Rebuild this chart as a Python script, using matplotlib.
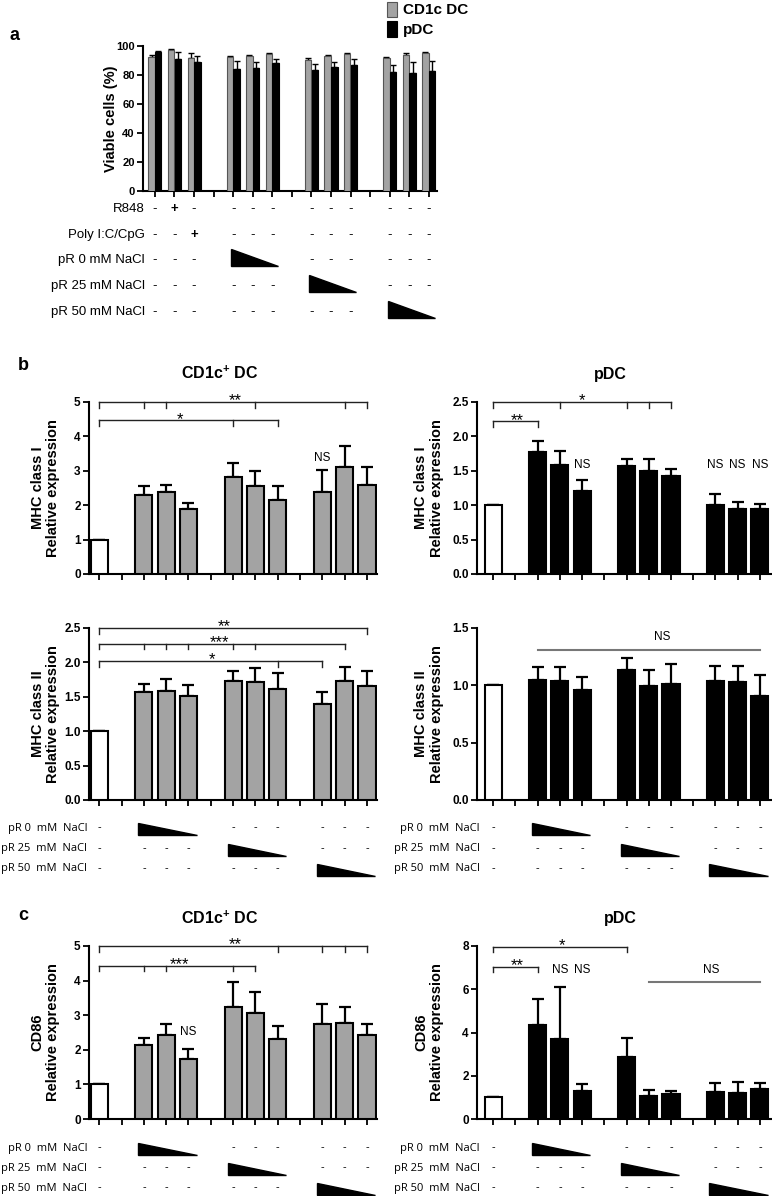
import matplotlib
matplotlib.use('Agg')
import matplotlib.pyplot as plt
from matplotlib import transforms
from matplotlib.patches import Polygon, Rectangle
import numpy as np

plt.rcParams['font.family'] = ['Liberation Sans', 'DejaVu Sans']
plt.rcParams['mathtext.fontset'] = 'custom'
plt.rcParams['mathtext.rm'] = 'Liberation Sans'
plt.rcParams['mathtext.bf'] = 'Liberation Sans:bold'

# ---------------- data ----------------
# panel a: viable cells (%)
a_pos = [0, 1, 2, 4, 5, 6, 8, 9, 10, 12, 13, 14]
a_cd1c = [92.6, 97.5, 92.0, 92.2, 92.9, 94.3, 90.1, 93.1, 94.5, 92.0, 94.0, 95.4]
a_cd1c_err = [1.4, 0.3, 3.2, 0.9, 0.9, 0.9, 1.6, 0.7, 0.9, 0.6, 1.0, 0.6]
a_pdc = [95.9, 91.3, 89.0, 83.9, 84.8, 88.0, 83.2, 85.7, 87.1, 81.8, 81.6, 82.5]
a_pdc_err = [0.7, 4.3, 4.3, 5.5, 4.4, 3.3, 4.6, 3.3, 3.7, 5.1, 7.4, 7.2]
a_row_labels = ['R848', 'Poly I:C/CpG', 'pR 0 mM NaCl', 'pR 25 mM NaCl', 'pR 50 mM NaCl']
# one entry per a_pos; 'T' = start of a decreasing triangle
a_row_signs = [
    ['-', '+', '-', '-', '-', '-', '-', '-', '-', '-', '-', '-'],
    ['-', '-', '+', '-', '-', '-', '-', '-', '-', '-', '-', '-'],
    ['-', '-', '-', 'T', '', '', '-', '-', '-', '-', '-', '-'],
    ['-', '-', '-', '-', '-', '-', 'T', '', '', '-', '-', '-'],
    ['-', '-', '-', '-', '-', '-', '-', '-', '-', 'T', '', ''],
]

# panels b, c: relative expression (control + 3 groups of 3)
bc_pos = [0, 2, 3, 4, 6, 7, 8, 10, 11, 12]
mhc1_cd1c = [1.0, 2.31, 2.39, 1.90, 2.81, 2.55, 2.14, 2.37, 3.10, 2.59]
mhc1_cd1c_err = [0, 0.26, 0.21, 0.17, 0.43, 0.44, 0.41, 0.65, 0.63, 0.52]
mhc1_pdc = [1.0, 1.78, 1.59, 1.20, 1.57, 1.49, 1.42, 1.01, 0.94, 0.95]
mhc1_pdc_err = [0, 0.16, 0.20, 0.17, 0.10, 0.18, 0.11, 0.16, 0.11, 0.07]
mhc2_cd1c = [1.0, 1.57, 1.59, 1.51, 1.73, 1.71, 1.62, 1.40, 1.73, 1.66]
mhc2_cd1c_err = [0, 0.11, 0.17, 0.16, 0.15, 0.21, 0.23, 0.17, 0.20, 0.22]
mhc2_pdc = [1.0, 1.05, 1.04, 0.96, 1.13, 0.99, 1.01, 1.04, 1.03, 0.91]
mhc2_pdc_err = [0, 0.11, 0.12, 0.11, 0.11, 0.14, 0.18, 0.13, 0.14, 0.18]
cd86_cd1c = [1.0, 2.15, 2.43, 1.72, 3.25, 3.07, 2.30, 2.76, 2.78, 2.44]
cd86_cd1c_err = [0, 0.18, 0.31, 0.30, 0.70, 0.61, 0.39, 0.57, 0.47, 0.31]
cd86_pdc = [1.0, 4.33, 3.68, 1.29, 2.88, 1.08, 1.14, 1.26, 1.19, 1.37]
cd86_pdc_err = [0, 1.22, 2.44, 0.31, 0.88, 0.26, 0.16, 0.42, 0.52, 0.28]

bc_row_labels = ['pR 0  mM  NaCl', 'pR 25  mM  NaCl', 'pR 50  mM  NaCl']
bc_row_signs = [
    ['-', 'T', '', '', '-', '-', '-', '-', '-', '-'],
    ['-', '-', '-', '-', 'T', '', '', '-', '-', '-'],
    ['-', '-', '-', '-', '-', '-', '-', 'T', '', ''],
]

# significance brackets: (y, x0, x1, drop ticks, label, label x)
mhc1_cd1c_sig = [(5.0, 0, 12, [0, 2, 3, 7, 11, 12], '**', 6.1),
                 (4.47, 0, 8, [0, 6, 8], '*', 3.6)]
mhc1_pdc_sig = [(2.5, 0, 8, [0, 3, 6, 7, 8], '*', 4.0),
                (2.22, 0, 2, [0, 2], '**', 1.1)]
mhc2_cd1c_sig = [(2.5, 0, 12, [0, 12], '**', 5.6),
                 (2.27, 0, 11, [0, 2, 3, 4, 6, 7, 11], '***', 5.4),
                 (2.02, 0, 10, [0, 8, 10], '*', 5.05)]
cd86_cd1c_sig = [(5.0, 0, 12, [0, 8, 10, 11, 12], '**', 6.1),
                 (4.43, 0, 7, [0, 2, 3, 6, 7], '***', 3.6)]
cd86_pdc_sig = [(7.97, 0, 6, [0, 6], '*', 3.1),
                (7.04, 0, 2, [0, 2], '**', 1.1)]
# NS labels: (x, y) ; NS lines: (y, x0, x1, label x, label y)
mhc1_cd1c_ns = [(10, 3.2)]
mhc1_pdc_ns = [(4, 1.5), (10, 1.5), (11, 1.5), (12, 1.5)]
cd86_cd1c_ns = [(4, 2.35)]
cd86_pdc_ns = [(3, 6.6), (4, 6.6)]
mhc2_pdc_nsline = [(1.31, 2, 12, 7.6, 1.37)]
cd86_pdc_nsline = [(6.35, 7, 12, 9.8, 6.6)]

W, H = 772, 1196
GRAY = '#a3a3a3'
TABLE_FONT = ['Open Sans', 'DejaVu Sans']

fig = plt.figure(figsize=(W / 100, H / 100), dpi=100)


def box(x0, y0, x1, y1):
    return [x0 / W, 1 - y1 / H, (x1 - x0) / W, (y1 - y0) / H]


def style_axes(ax, ticks, fmt, size=8.5):
    for s in ['top', 'right']:
        ax.spines[s].set_visible(False)
    for s in ['left', 'bottom']:
        ax.spines[s].set_linewidth(1.5)
    ax.set_yticks(ticks)
    ax.set_yticklabels([fmt.format(t) for t in ticks], fontweight='bold', fontsize=size)
    ax.tick_params(axis='both', direction='out', length=4, width=1.3, pad=2)
    ax.tick_params(axis='x', labelbottom=False)


def sign_table(ax, labels, signs, positions, rows_px, label_px, fontsize, fam,
               tri_h, tri_l, tri_r):
    tr = transforms.blended_transform_factory(ax.transData, fig.transFigure)
    for lab, row, ypx in zip(labels, signs, rows_px):
        yf = 1 - ypx / H
        fig.text(label_px / W, yf, lab, ha='right', va='center',
                 fontsize=fontsize, family=fam)
        for p, s in zip(positions, row):
            if s in ('-', '+'):
                ax.text(p, yf, s, transform=tr, ha='center', va='center',
                        fontsize=fontsize, family=fam,
                        fontweight='bold' if s == '+' else 'normal')
            elif s == 'T':
                top = 1 - (ypx - tri_h[0]) / H
                bot = 1 - (ypx + tri_h[1]) / H
                poly = Polygon([(p + tri_l, top), (p + tri_l, bot), (p + tri_r, bot)],
                               closed=True, transform=tr, facecolor='black',
                               edgecolor='black', clip_on=False)
                ax.add_patch(poly)


def bar_panel(rect, xlim, vals, errs, color, ylim, ticks, fmt, ylabel,
              sig=(), ns=(), nsline=(), label_x=-0.10):
    ax = fig.add_axes(box(*rect))
    colors = ['white'] + [color] * (len(vals) - 1)
    ax.bar(bc_pos, vals, width=0.77, color=colors, edgecolor='black',
           linewidth=1.5, zorder=3)
    lower = np.zeros(len(vals))
    ax.errorbar(bc_pos, vals, yerr=[lower, errs], fmt='none', ecolor='black',
                elinewidth=1.6, capsize=4, capthick=1.6, zorder=2)
    ax.set_xlim(*xlim)
    ax.set_ylim(*ylim)
    ax.set_xticks(range(13))
    style_axes(ax, ticks, fmt)
    ax.set_ylabel(ylabel, fontsize=10.5, fontweight='bold', linespacing=1.15)
    ax.yaxis.set_label_coords(label_x, 0.5)
    rng = ylim[1] - ylim[0]
    hpx = rect[3] - rect[1]
    drop = rng * 5.5 / hpx
    for y, x0, x1, ticks_d, lab, lx in sig:
        ax.plot([x0, x1], [y, y], color='#222222', lw=1.0, clip_on=False)
        for t in ticks_d:
            ax.plot([t, t], [y, y - drop], color='#222222', lw=1.0, clip_on=False)
        ax.annotate(lab, (lx, y), xytext=(0, -2.5), textcoords='offset points',
                    ha='center', va='baseline', fontsize=12, annotation_clip=False)
    for x, y in ns:
        ax.text(x, y, 'NS', ha='center', va='bottom', fontsize=8.5, clip_on=False)
    for y, x0, x1, lx, ly in nsline:
        ax.plot([x0, x1], [y, y], color='#777777', lw=1.5, clip_on=False)
        ax.text(lx, ly, 'NS', ha='center', va='bottom', fontsize=8.5, clip_on=False)
    return ax


# ---------------- panel a ----------------
ax_a = fig.add_axes(box(143, 46, 437, 191))
pa = np.array(a_pos)
ax_a.bar(pa - 0.17, a_cd1c, width=0.33, color=GRAY, edgecolor='#555555',
         linewidth=0.8, zorder=3)
ax_a.bar(pa + 0.17, a_pdc, width=0.33, color='black', edgecolor='black',
         linewidth=0.8, zorder=3)
ax_a.errorbar(pa - 0.17, a_cd1c, yerr=[np.zeros(len(pa)), a_cd1c_err], fmt='none',
              ecolor='black', elinewidth=1.0, capsize=2.5, capthick=1.0, zorder=2)
ax_a.errorbar(pa + 0.17, a_pdc, yerr=[np.zeros(len(pa)), a_pdc_err], fmt='none',
              ecolor='black', elinewidth=1.0, capsize=2.5, capthick=1.0, zorder=2)
ax_a.set_xlim(-0.61, 14.42)
ax_a.set_ylim(0, 100)
ax_a.set_xticks(range(15))
style_axes(ax_a, [0, 20, 40, 60, 80, 100], '{:d}', size=8)
ax_a.set_ylabel('Viable cells (%)', fontsize=10.5, fontweight='bold')
ax_a.yaxis.set_label_coords(-0.085, 0.5)
sign_table(ax_a, a_row_labels, a_row_signs, a_pos, [209, 235, 260, 286, 312], 145,
           9.5, ['Liberation Sans'], (11, 6), -0.1, 2.3)

# legend
fig.patches.append(Rectangle((387 / W, 1 - 17 / H), 10 / W, 15 / H,
                             transform=fig.transFigure, facecolor=GRAY,
                             edgecolor='#555555', lw=0.8))
fig.patches.append(Rectangle((387 / W, 1 - 37 / H), 10 / W, 16 / H,
                             transform=fig.transFigure, facecolor='black',
                             edgecolor='black', lw=0.8))
fig.text(403 / W, 1 - 10 / H, 'CD1c DC', ha='left', va='center', fontsize=11,
         fontweight='bold')
fig.text(403 / W, 1 - 30 / H, 'pDC', ha='left', va='center', fontsize=11,
         fontweight='bold')

# ---------------- panel b ----------------
LX = (-0.46, 12.45)
RX = (-0.73, 12.5)
L = (89, 377)
R = (477, 771)

bar_panel((L[0], 402, L[1], 574), LX, mhc1_cd1c, mhc1_cd1c_err, GRAY, (0, 5),
          [0, 1, 2, 3, 4, 5], '{:d}', 'MHC class I\nRelative expression',
          sig=mhc1_cd1c_sig, ns=mhc1_cd1c_ns)
bar_panel((R[0], 402, R[1], 574), RX, mhc1_pdc, mhc1_pdc_err, 'black', (0, 2.5),
          [0, 0.5, 1.0, 1.5, 2.0, 2.5], '{:.1f}', 'MHC class I\nRelative expression',
          sig=mhc1_pdc_sig, ns=mhc1_pdc_ns, label_x=-0.112)
axL = bar_panel((L[0], 628, L[1], 800), LX, mhc2_cd1c, mhc2_cd1c_err, GRAY, (0, 2.5),
                [0, 0.5, 1.0, 1.5, 2.0, 2.5], '{:.1f}', 'MHC class II\nRelative expression',
                sig=mhc2_cd1c_sig)
axR = bar_panel((R[0], 628, R[1], 800), RX, mhc2_pdc, mhc2_pdc_err, 'black', (0, 1.5),
                [0, 0.5, 1.0, 1.5], '{:.1f}', 'MHC class II\nRelative expression',
                nsline=mhc2_pdc_nsline, label_x=-0.112)
sign_table(axL, bc_row_labels, bc_row_signs, bc_pos, [828, 849, 869], 87, 8,
           TABLE_FONT, (5, 7), -0.25, 2.37)
sign_table(axR, bc_row_labels, bc_row_signs, bc_pos, [828, 849, 869], 480, 8,
           TABLE_FONT, (5, 7), -0.27, 2.35)

# ---------------- panel c ----------------
axL = bar_panel((L[0], 946, L[1], 1119), LX, cd86_cd1c, cd86_cd1c_err, GRAY, (0, 5),
                [0, 1, 2, 3, 4, 5], '{:d}', 'CD86\nRelative expression',
                sig=cd86_cd1c_sig, ns=cd86_cd1c_ns)
axR = bar_panel((R[0], 946, R[1], 1119), RX, cd86_pdc, cd86_pdc_err, 'black', (0, 8),
                [0, 2, 4, 6, 8], '{:d}', 'CD86\nRelative expression',
                sig=cd86_pdc_sig, ns=cd86_pdc_ns, nsline=cd86_pdc_nsline, label_x=-0.112)
sign_table(axL, bc_row_labels, bc_row_signs, bc_pos, [1148, 1168, 1188], 87, 8,
           TABLE_FONT, (5, 7), -0.25, 2.37)
sign_table(axR, bc_row_labels, bc_row_signs, bc_pos, [1148, 1168, 1188], 480, 8,
           TABLE_FONT, (5, 7), -0.27, 2.35)

# titles and panel letters
title_kw = dict(ha='center', va='center', fontsize=11.5, fontweight='bold')
fig.text(220 / W, 1 - 373 / H, r'CD1c$^{\mathbf{+}}$ DC', **title_kw)
fig.text(610 / W, 1 - 375 / H, 'pDC', **title_kw)
fig.text(220 / W, 1 - 918 / H, r'CD1c$^{\mathbf{+}}$ DC', **title_kw)
fig.text(620 / W, 1 - 918 / H, 'pDC', **title_kw)
letter_kw = dict(ha='center', va='center', fontsize=13, fontweight='bold')
fig.text(15 / W, 1 - 35 / H, 'a', **letter_kw)
fig.text(23 / W, 1 - 366 / H, 'b', **letter_kw)
fig.text(23 / W, 1 - 915 / H, 'c', **letter_kw)

fig.savefig('out.png', dpi=100)
